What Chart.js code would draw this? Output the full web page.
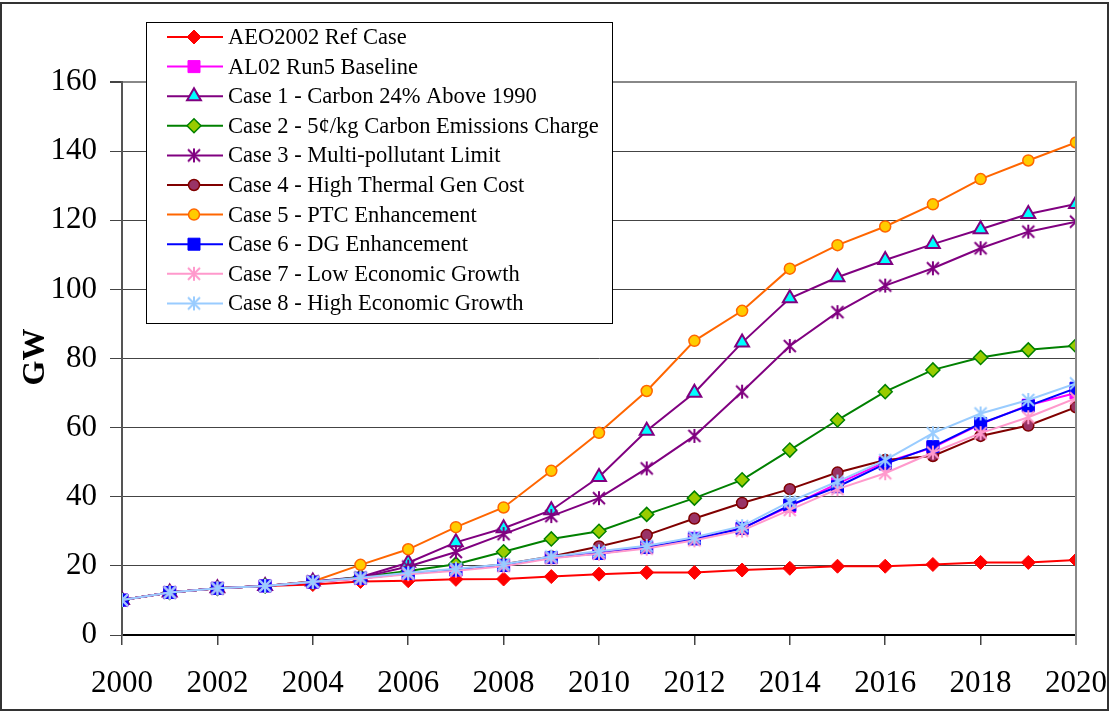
<!DOCTYPE html>
<html><head><meta charset="utf-8">
<script src="https://cdn.jsdelivr.net/npm/chart.js@4.4.0/dist/chart.umd.min.js"></script>
<style>html,body{margin:0;padding:0;background:#fff}#wrap{width:1110px;height:713px;position:relative}</style>
</head><body><div id="wrap"><canvas id="c" width="1110" height="713"></canvas></div>
<script>
const years = [2000,2001,2002,2003,2004,2005,2006,2007,2008,2009,2010,2011,2012,2013,2014,2015,2016,2017,2018,2019,2020];
const seriesNames = ["AEO2002 Ref Case","AL02 Run5 Baseline","Case 1 - Carbon 24% Above 1990","Case 2 - 5\u00a2/kg Carbon Emissions Charge","Case 3 - Multi-pollutant Limit","Case 4 - High Thermal Gen Cost","Case 5 - PTC Enhancement","Case 6 - DG Enhancement","Case 7 - Low Economic Growth","Case 8 - High Economic Growth"];
const aeo2002 = [10.1,12.3,13.5,14.2,14.6,15.5,15.7,16.1,16.2,16.9,17.6,18.1,18.1,18.8,19.3,19.9,19.9,20.4,21.0,21.0,21.7];
const al02    = [10.1,12.3,13.5,14.2,15.3,16.4,17.8,18.8,20.2,22.4,23.8,25.5,28.0,30.9,37.2,43.8,50.0,54.2,61.0,66.5,70.0];
const case1   = [10.1,12.3,13.5,14.2,15.5,16.8,20.9,26.8,30.9,36.1,45.7,59.1,70.1,84.6,97.4,103.5,108.5,113.1,117.4,121.8,124.7];
const case2   = [10.1,12.3,13.5,14.2,15.3,16.8,18.5,20.5,24.1,27.8,30.0,34.9,39.6,44.9,53.5,62.2,70.4,76.7,80.3,82.5,83.7];
const case3   = [10.1,12.3,13.5,14.2,15.5,16.6,19.8,24.0,29.2,34.4,39.6,48.2,57.6,70.4,83.6,93.4,101.1,106.1,111.9,116.7,119.6];
const case4   = [10.1,12.3,13.5,14.2,15.3,16.6,17.8,19.0,20.5,22.7,25.6,28.9,33.7,38.2,42.2,47.0,50.6,51.8,57.6,60.6,65.9];
const case5   = [10.1,12.3,13.5,14.2,15.5,20.3,24.8,31.2,36.9,47.5,58.5,70.6,85.1,93.8,106.0,112.8,118.2,124.6,131.9,137.3,142.5];
const case6   = [10.1,12.3,13.5,14.2,15.3,16.4,17.8,18.8,20.1,22.4,23.6,25.3,27.8,30.8,37.6,42.9,49.5,54.5,61.2,66.3,71.4];
const case7   = [10.1,12.3,13.5,14.2,15.3,16.3,17.6,18.6,19.9,22.2,23.5,25.0,27.4,30.2,36.2,42.2,46.8,52.8,58.4,63.0,68.5];
const case8   = [10.1,12.3,13.5,14.2,15.4,16.6,18.0,19.2,20.5,22.7,24.2,25.8,28.3,31.5,38.6,44.4,50.6,58.4,64.1,68.0,72.8];
const yTicks  = [0,20,40,60,80,100,120,140,160];
const xTicks  = [2000,2002,2004,2006,2008,2010,2012,2014,2016,2018,2020];

const allSeries = [aeo2002, al02, case1, case2, case3, case4, case5, case6, case7, case8];

function starImg(color){
  const s = 16, c = document.createElement('canvas'); c.width = s; c.height = s;
  const g = c.getContext('2d'); g.strokeStyle = color; g.lineWidth = 2;
  const h = s/2, r = 7, d = 6;
  g.beginPath();
  g.moveTo(h, h-r); g.lineTo(h, h+r);
  g.moveTo(h-d, h-d); g.lineTo(h+d, h+d);
  g.moveTo(h+d, h-d); g.lineTo(h-d, h+d);
  g.stroke();
  return c;
}

const styles = [
  {line:'#FF0000', fill:'#FF0000', border:'#FF0000', ps:'rectRot', r:7, bw:1},
  {line:'#FF00FF', fill:'#FF00FF', border:'#FF00FF', ps:'rect', r:8.5, bw:1},
  {line:'#800080', fill:'#00FFFF', border:'#800080', ps:'triangle', r:8, bw:2},
  {line:'#008000', fill:'#99CC00', border:'#008000', ps:'rectRot', r:7, bw:1.5},
  {line:'#800080', fill:'#800080', border:'#800080', ps:starImg('#800080'), r:8, bw:0},
  {line:'#800000', fill:'#993366', border:'#800000', ps:'circle', r:5.5, bw:1.5},
  {line:'#FF6600', fill:'#FFCC00', border:'#FF6600', ps:'circle', r:5.5, bw:1.5},
  {line:'#0000FF', fill:'#0000FF', border:'#0000FF', ps:'rect', r:8.5, bw:1},
  {line:'#FF99CC', fill:'#FF99CC', border:'#FF99CC', ps:starImg('#FF99CC'), r:8, bw:0},
  {line:'#99CCFF', fill:'#99CCFF', border:'#99CCFF', ps:starImg('#99CCFF'), r:8, bw:0}
];

const datasets = allSeries.map((vals, i) => ({
  label: seriesNames[i],
  data: years.map((y, k) => ({x: y, y: vals[k]})),
  borderColor: styles[i].line,
  borderWidth: 2,
  backgroundColor: styles[i].fill,
  pointStyle: styles[i].ps,
  pointRadius: styles[i].r,
  pointBackgroundColor: styles[i].fill,
  pointBorderColor: styles[i].border,
  pointBorderWidth: styles[i].bw,
  tension: 0,
  order: 20 - i
}));

const serif = "'Liberation Serif','Times New Roman',serif";

const extras = {
  id: 'extras',
  afterDraw(chart) {
    const ctx = chart.ctx, a = chart.chartArea;
    ctx.save();
    // right plot border
    ctx.strokeStyle = '#888'; ctx.lineWidth = 2;
    ctx.beginPath(); ctx.moveTo(a.right, a.top - 1); ctx.lineTo(a.right, a.bottom + 10); ctx.stroke();
    // GW title
    ctx.save();
    ctx.translate(36, 357); ctx.rotate(-Math.PI/2);
    ctx.fillStyle = '#000'; ctx.font = "bold 32px " + serif;
    ctx.textAlign = 'center'; ctx.textBaseline = 'middle';
    ctx.fillText('GW', 0, 0);
    ctx.restore();
    // legend
    const L = 146.5, T = 22.5, R = 612.5, B = 323.5;
    ctx.fillStyle = '#fff'; ctx.fillRect(L, T, R-L, B-T);
    ctx.strokeStyle = '#000'; ctx.lineWidth = 1; ctx.strokeRect(L, T, R-L, B-T);
    ctx.font = "22.5px " + serif; ctx.textBaseline = 'middle'; ctx.textAlign = 'left';
    for (let i = 0; i < seriesNames.length; i++) {
      const y = 37 + i * 29.6;
      const st = styles[i];
      ctx.strokeStyle = st.line; ctx.lineWidth = 2;
      ctx.beginPath(); ctx.moveTo(167, y); ctx.lineTo(223, y); ctx.stroke();
      ctx.fillStyle = st.fill; ctx.strokeStyle = st.border;
      ctx.lineWidth = st.bw;
      Chart.helpers.drawPoint(ctx, {pointStyle: st.ps, radius: st.r, rotation: 0, borderWidth: st.bw}, 194, y);
      ctx.fillStyle = '#000';
      ctx.fillText(seriesNames[i], 228, y + 1);
    }
    // outer frame
    ctx.strokeStyle = '#333'; ctx.lineWidth = 2;
    ctx.strokeRect(1, 3, 1107, 707);
    ctx.restore();
  }
};

new Chart(document.getElementById('c'), {
  type: 'line',
  data: { datasets },
  options: {
    responsive: false,
    devicePixelRatio: 1,
    animation: false,
    events: [],
    layout: { padding: { top: 82, right: 34, left: 0, bottom: 0 } },
    plugins: { legend: { display: false }, tooltip: { enabled: false } },
    scales: {
      x: {
        type: 'linear', min: 2000, max: 2020,
        afterBuildTicks: s => { s.ticks = xTicks.map(v => ({value: v})); },
        afterFit: s => { s.height = 78; s.paddingLeft = 0; s.paddingRight = 0; },
        grid: { drawOnChartArea: false, drawTicks: true, tickLength: 10, tickColor: '#444', lineWidth: 1.5 },
        border: { color: '#000', width: 1.5 },
        ticks: { color: '#000', font: { family: serif, size: 31 }, padding: 20, maxRotation: 0, autoSkip: false, callback: v => String(v) }
      },
      y: {
        min: 0, max: 160,
        afterBuildTicks: s => { s.ticks = yTicks.map(v => ({value: v})); },
        afterFit: s => { s.width = 122; s.paddingTop = 0; s.paddingBottom = 0; },
        grid: {
          color: c => c.tick.value === 160 ? '#888' : (c.tick.value === 0 ? '#000' : '#444'),
          lineWidth: c => c.tick.value === 160 ? 2 : 1,
          tickLength: 12, tickColor: '#444'
        },
        border: { color: '#555', width: 2 },
        ticks: { color: '#000', font: { family: serif, size: 31 }, padding: 13, callback: v => String(v) }
      }
    }
  },
  plugins: [extras]
});
</script></body></html>
